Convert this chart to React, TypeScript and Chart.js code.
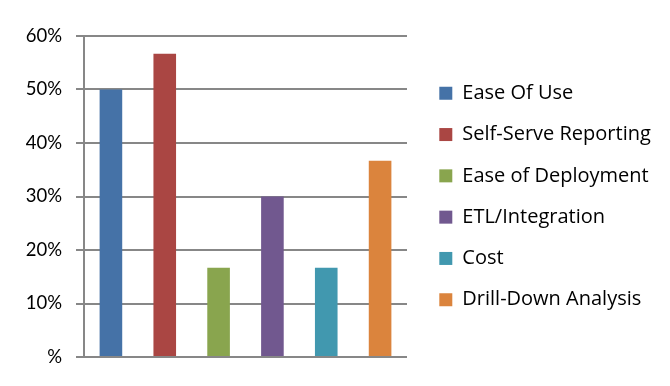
import { useEffect, useRef } from 'react';
import { Chart, registerables } from 'chart.js';

Chart.register(...registerables);

const categories = [
  'Ease Of Use',
  'Self-Serve Reporting',
  'Ease of Deployment',
  'ETL/Integration',
  'Cost',
  'Drill-Down Analysis',
];
const values = [50, 56.7, 16.7, 30, 16.7, 36.7];
const colors = ['#4572A7', '#AA4643', '#89A54E', '#71588F', '#4198AF', '#DB843D'];
const yMin = 0;
const yMax = 60;
const yStep = 10;

const TICK_FONT = 'Lato, "Open Sans", sans-serif';
const LEGEND_FONT = '"Open Sans", Lato, sans-serif';
const GRID = '#878787';

export default function App() {
  const ref = useRef<HTMLCanvasElement>(null);

  useEffect(() => {
    if (!ref.current) return;
    const legendTweak = {
      id: 'legendTweak',
      beforeLayout(chart: any) {
        const lg = chart.legend;
        if (lg && !lg.__patched) {
          const orig = lg.fit.bind(lg);
          lg.fit = function () {
            orig();
            this.width = 263;
          };
          lg.__patched = true;
        }
      },
      afterLayout(chart: any) {
        const lg = chart.legend;
        if (lg) {
          lg.left += 11;
          lg.right += 11;
        }
      },
    };

    const chart = new Chart(ref.current, {
      type: 'bar',
      data: {
        labels: categories,
        datasets: [
          {
            data: values,
            backgroundColor: colors,
            borderWidth: 0,
            categoryPercentage: 1,
            barPercentage: 0.42,
          },
        ],
      },
      options: {
        responsive: false,
        animation: false,
        layout: { padding: { top: 36, bottom: 29, left: 0, right: 0 } },
        plugins: {
          tooltip: { enabled: false },
          legend: {
            position: 'right',
            align: 'center',
            labels: {
              boxWidth: 13,
              boxHeight: 13,
              padding: 21.3,
              color: '#000',
              font: { family: LEGEND_FONT, size: 20 },
              generateLabels: () =>
                categories.map((c, i) => ({
                  text: c,
                  fillStyle: colors[i],
                  strokeStyle: colors[i],
                  lineWidth: 0,
                  hidden: false,
                  index: i,
                  datasetIndex: 0,
                })),
            },
          },
        },
        scales: {
          x: {
            display: false,
            grid: { display: false },
          },
          y: {
            min: yMin,
            max: yMax,
            afterFit: (scale: any) => {
              scale.width = 84;
            },
            ticks: {
              stepSize: yStep,
              padding: 14,
              color: '#000',
              font: { family: TICK_FONT, size: 18.5 },
              callback: (v: any) => (Number(v) === 0 ? '%' : `${v}%`),
            },
            grid: {
              color: GRID,
              lineWidth: 2,
              tickLength: 8,
              drawTicks: true,
            },
            border: { display: true, color: GRID, width: 2 },
          },
        },
      },
      plugins: [legendTweak],
    });
    return () => chart.destroy();
  }, []);

  return (
    <div style={{ position: 'fixed', left: 0, top: 0, width: 670, height: 386, background: '#fff' }}>
      <canvas ref={ref} width={670} height={386} />
    </div>
  );
}
